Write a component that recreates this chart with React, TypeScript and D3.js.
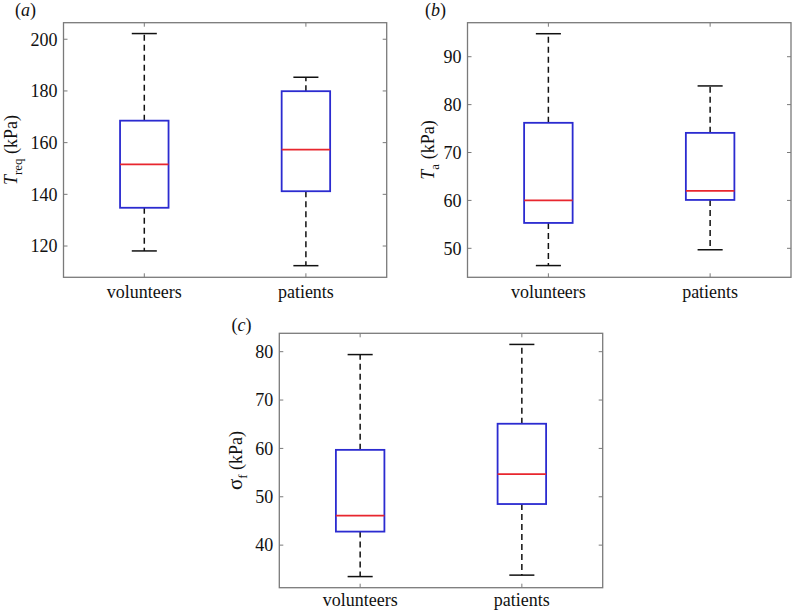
import React from "react";
import * as d3 from "d3";

const categories = ["volunteers", "patients"];

// [lowWhisker, q1, median, q3, highWhisker]
const treqStats = [
  [118.1, 134.8, 151.6, 168.5, 202.2],
  [112.4, 141.2, 157.3, 179.9, 185.3],
];
const treqDomain = [107.9, 206.4];
const treqTicks = [120, 140, 160, 180, 200];

const taStats = [
  [46.4, 55.3, 60.0, 76.2, 94.8],
  [49.7, 60.1, 62.0, 74.1, 83.9],
];
const taDomain = [43.95, 97.1];
const taTicks = [50, 60, 70, 80, 90];

const sfStats = [
  [33.5, 42.8, 46.1, 59.7, 79.4],
  [33.8, 48.5, 54.7, 65.1, 81.5],
];
const sfDomain = [31.2, 83.8];
const sfTicks = [40, 50, 60, 70, 80];

const FONT = `"Liberation Serif"`;
const AXIS = "#7a7a7a";
const TXT: React.CSSProperties = { fontFamily: FONT, fontSize: 18 };

type PanelProps = {
  x: number;
  y: number;
  w: number;
  h: number;
  domain: number[];
  ticks: number[];
  stats: number[][];
  letter: string;
  letterX: number;
  letterY: number;
  labelX: number;
  xLabelOffset: number;
  label: React.ReactNode;
};

function Panel(p: PanelProps) {
  const xs = d3
    .scalePoint<string>()
    .domain(categories)
    .range([p.x, p.x + p.w])
    .padding(0.5);
  const ys = d3.scaleLinear().domain(p.domain).range([p.y + p.h, p.y]);
  const step = xs.step();
  const boxW = step * 0.3;
  const capW = step * 0.155;
  const tl = 4;
  return (
    <g>
      {p.ticks.map((t) => (
        <g key={t}>
          <line x1={p.x} x2={p.x + tl} y1={ys(t)} y2={ys(t)} stroke={AXIS} strokeWidth={1} />
          <line x1={p.x + p.w} x2={p.x + p.w - tl} y1={ys(t)} y2={ys(t)} stroke={AXIS} strokeWidth={1} />
          <text x={p.x - 6} y={ys(t)} dy="0.35em" textAnchor="end" style={TXT} fill="#111">
            {t}
          </text>
        </g>
      ))}
      {categories.map((c) => (
        <g key={c}>
          <line x1={xs(c)} x2={xs(c)} y1={p.y + p.h} y2={p.y + p.h - tl} stroke={AXIS} strokeWidth={1} />
          <line x1={xs(c)} x2={xs(c)} y1={p.y} y2={p.y + tl} stroke={AXIS} strokeWidth={1} />
          <text x={xs(c)} y={p.y + p.h + p.xLabelOffset} textAnchor="middle" style={TXT} fill="#111">
            {c}
          </text>
        </g>
      ))}
      {p.stats.map((s, i) => {
        const cx = xs(categories[i]) as number;
        const [lo, q1, med, q3, hi] = s;
        return (
          <g key={i}>
            <line x1={cx} x2={cx} y1={ys(q3)} y2={ys(hi)} stroke="#111" strokeWidth={1.5} strokeDasharray="6,4" />
            <line x1={cx} x2={cx} y1={ys(q1)} y2={ys(lo)} stroke="#111" strokeWidth={1.5} strokeDasharray="6,4" />
            <line x1={cx - capW / 2} x2={cx + capW / 2} y1={ys(hi)} y2={ys(hi)} stroke="#111" strokeWidth={1.5} />
            <line x1={cx - capW / 2} x2={cx + capW / 2} y1={ys(lo)} y2={ys(lo)} stroke="#111" strokeWidth={1.5} />
            <rect
              x={cx - boxW / 2}
              y={ys(q3)}
              width={boxW}
              height={ys(q1) - ys(q3)}
              fill="white"
              stroke="#2b2bd0"
              strokeWidth={1.8}
            />
            <line x1={cx - boxW / 2} x2={cx + boxW / 2} y1={ys(med)} y2={ys(med)} stroke="#e8262e" strokeWidth={1.8} />
          </g>
        );
      })}
      <rect x={p.x} y={p.y} width={p.w} height={p.h} fill="none" stroke={AXIS} strokeWidth={1.3} />
      <text x={p.letterX} y={p.letterY} style={TXT} fill="#111">
        (<tspan fontStyle="italic">{p.letter}</tspan>)
      </text>
      <text
        transform={`translate(${p.labelX},${p.y + p.h / 2}) rotate(-90)`}
        textAnchor="middle"
        style={TXT}
        fill="#111"
      >
        {p.label}
      </text>
    </g>
  );
}

export default function App() {
  return (
    <svg width={793} height={610} style={{ position: "absolute", left: 0, top: 0, background: "white" }}>
      <Panel
        x={63.5}
        y={22.7}
        w={323.2}
        h={254.6}
        domain={treqDomain}
        ticks={treqTicks}
        stats={treqStats}
        letter="a"
        letterX={15}
        letterY={16}
        labelX={17}
        xLabelOffset={21}
        label={
          <>
            <tspan fontStyle="italic">T</tspan>
            <tspan style={{ fontSize: 13 }} dy={5}>req</tspan>
            <tspan dy={-5}> (kPa)</tspan>
          </>
        }
      />
      <Panel
        x={467.5}
        y={22.7}
        w={323.5}
        h={254.6}
        domain={taDomain}
        ticks={taTicks}
        stats={taStats}
        letter="b"
        letterX={425}
        letterY={16}
        labelX={434}
        xLabelOffset={21}
        label={
          <>
            <tspan fontStyle="italic">T</tspan>
            <tspan style={{ fontSize: 13 }} dy={5}>a</tspan>
            <tspan dy={-5}> (kPa)</tspan>
          </>
        }
      />
      <Panel
        x={279.3}
        y={333.3}
        w={323.4}
        h={254.4}
        domain={sfDomain}
        ticks={sfTicks}
        stats={sfStats}
        letter="c"
        letterX={231.5}
        letterY={331}
        labelX={242}
        xLabelOffset={18}
        label={
          <>
            <tspan style={{ fontSize: 21 }}>σ</tspan>
            <tspan style={{ fontSize: 13 }} dy={5}>f</tspan>
            <tspan dy={-5}> (kPa)</tspan>
          </>
        }
      />
    </svg>
  );
}
